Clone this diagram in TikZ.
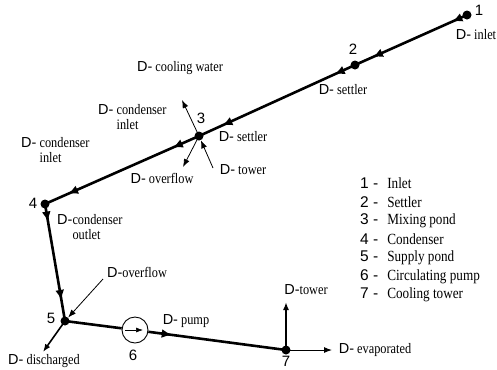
\documentclass[tikz,border=0pt]{standalone}
\usepackage{fontspec}
\setmainfont{Liberation Serif}[FakeStretch=0.85]
\newfontfamily\arialf{Liberation Sans}
\usetikzlibrary{arrows.meta,decorations.markings}
\newcommand\Dh{{\arialf D-}}
\begin{document}
\begin{tikzpicture}[x=1bp,y=-1bp,
 dot/.style={circle,fill=black,inner sep=0pt,minimum size=9bp},
 lbl/.style={inner sep=0pt,font=\fontsize{14.5bp}{15bp}\selectfont,align=left},
 num/.style={inner sep=0pt,font=\arialf\fontsize{15bp}{16bp}\selectfont},
 leg/.style={inner sep=0pt,anchor=west,font=\fontsize{15.5bp}{16bp}\selectfont},
 main/.style={line width=2.6bp},
 thinarr/.style={line width=0.8bp,-{Latex[length=8bp,width=6bp]}},
 midarr/.style 2 args={postaction={decorate},decoration={markings,
   mark=at position #1 with {\arrow{Latex[length=10bp,width=9bp]}},
   mark=at position #2 with {\arrow{Latex[length=10bp,width=9bp]}}}},
 onearr/.style={postaction={decorate},decoration={markings,
   mark=at position #1 with {\arrow{Latex[length=10bp,width=9bp]}}}},
]
\useasboundingbox (0,0) rectangle (497,369);

% junction nodes
\node[dot] (n1) at (467,15) {};
\node[dot] (n2) at (355,65) {};
\node[dot] (n3) at (199,136) {};
\node[dot] (n4) at (45,204) {};
\node[dot] (n5) at (65,321) {};
\node[circle,draw,fill=white,line width=0.9bp,minimum size=26bp,inner sep=0pt] (n6) at (135,330) {};
\node[dot] (n7) at (286,350) {};

% free ends
\coordinate (c3a) at (182,100);
\coordinate (c3b) at (183,167);
\coordinate (c3c) at (213,168);
\coordinate (c5a) at (103,279);
\coordinate (c5b) at (43,352);
\coordinate (c7a) at (286,302);
\coordinate (c7b) at (332,350);

% main flow
\draw[main,midarr={0.13}{0.84}] (n1.center) -- (n2.center);
\draw[main,midarr={0.13}{0.85}] (n2.center) -- (n3.center);
\draw[main,midarr={0.17}{0.85}] (n3.center) -- (n4.center);
\draw[main,midarr={0.15}{0.82}] (n4.center) -- (n5.center);
\draw[main] (n5.center) -- (n6);
\draw[main,onearr=0.17] (n6) -- (n7.center);

% side streams
\draw[thinarr] (n3.center) -- (c3a);
\draw[thinarr] (n3.center) -- (c3b);
\draw[thinarr] (c3c) -- (n3);
\draw[thinarr] (c5a) -- (n5);
\draw[thinarr,line width=1.6bp] (n5.center) -- (c5b);
\draw[thinarr,line width=1.7bp] (n7.center) -- (c7a);
\draw[thinarr,line width=1bp] (n7.center) -- (c7b);
\draw[thinarr,line width=0.6bp,-{Latex[length=7bp,width=5bp]}] ([xshift=-10bp]n6.center) -- ([xshift=8bp]n6.center);

% number labels
\node[num] (l1) at (479,10) {1};
\node[num] (l2) at (353,49) {2};
\node[num] (l3) at (201,118) {3};
\node[num] (l4) at (33,203) {4};
\node[num] (l5) at (51,318) {5};
\node[num] (l6) at (133,355) {6};
\node[num] (l7) at (286,361) {7};

% stream labels
\node[lbl] (t1) at (476,35) {\Dh{} inlet};
\node[lbl] (t2) at (343,90) {\Dh{} settler};
\node[lbl] (t3a) at (243,137) {\Dh{} settler};
\node[lbl] (t3b) at (243,170) {\Dh{} tower};
\node[lbl] (t3c) at (162,178) {\Dh{} overflow};
\node[lbl] (t3d) at (180,68) {\Dh{} cooling water};
\node[lbl,anchor=north west] (t3e) at (98,104) {\Dh{} condenser\\\phantom{\Dh{} }inlet};
\node[lbl,anchor=north west] (t4a) at (21,137) {\Dh{} condenser\\\phantom{\Dh{} }inlet};
\node[lbl,anchor=north west] (t4b) at (57,214) {\Dh condenser\\\phantom{\Dh}outlet};
\node[lbl] (t5a) at (137,272) {\Dh overflow};
\node[lbl] (t5b) at (44,361) {\Dh{} discharged};
\node[lbl] (t6) at (186,321) {\Dh{} pump};
\node[lbl] (t7a) at (306,290) {\Dh tower};
\node[lbl] (t7b) at (375,350) {\Dh{} evaporated};

% legend
\node[leg] (g1) at (360,183.0) {{\arialf 1 -}\hspace{9bp}Inlet};
\node[leg] (g2) at (360,201.7) {{\arialf 2 -}\hspace{9bp}Settler};
\node[leg] (g3) at (360,220.3) {{\arialf 3 -}\hspace{9bp}Mixing pond};
\node[leg] (g4) at (360,239.0) {{\arialf 4 -}\hspace{9bp}Condenser};
\node[leg] (g5) at (360,257.7) {{\arialf 5 -}\hspace{9bp}Supply pond};
\node[leg] (g6) at (360,276.3) {{\arialf 6 -}\hspace{9bp}Circulating pump};
\node[leg] (g7) at (360,295.0) {{\arialf 7 -}\hspace{9bp}Cooling tower};
\end{tikzpicture}
\end{document}
